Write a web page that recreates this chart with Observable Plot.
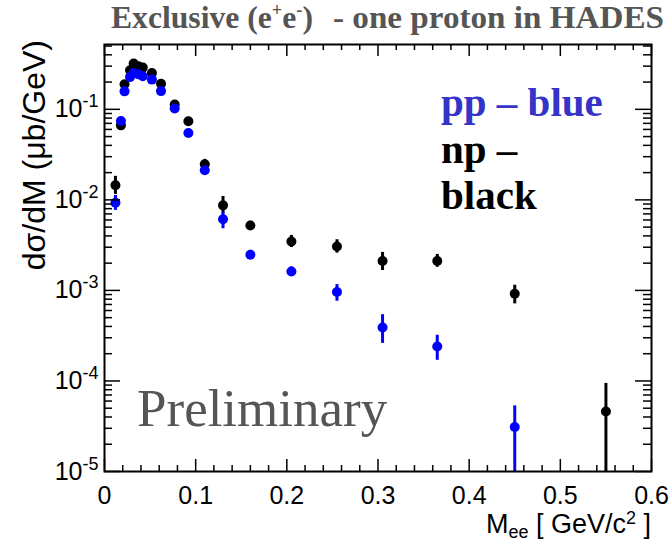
<!DOCTYPE html>
<html><head><meta charset="utf-8">
<script src="https://cdn.jsdelivr.net/npm/d3@7"></script>
<script src="https://cdn.jsdelivr.net/npm/@observablehq/plot@0.6"></script>
<style>
body{margin:0;background:#fff;}
#wrap{width:671px;height:544px;overflow:hidden;}
</style></head><body><div id="wrap"></div>
<script>
// ---- data ----
const mass = [0.012, 0.018, 0.022, 0.028, 0.032, 0.037, 0.042, 0.052, 0.062, 0.077, 0.092, 0.110, 0.130, 0.160, 0.205, 0.255, 0.305, 0.365, 0.450, 0.550];
// np (black)
const npVal = [0.0145, 0.0665, 0.189, 0.27, 0.32, 0.30, 0.289, 0.252, 0.192, 0.113, 0.0737, 0.0247, 0.0087, 0.0052, 0.00347, 0.00306, 0.00211, 0.00211, 0.00092, 0.000046];
const npLo  = [0.0115, 0.060, 0.175, 0.25, 0.30, 0.28, 0.27, 0.235, 0.18, 0.106, 0.068, 0.0217, 0.0071, 0.0047, 0.00298, 0.00258, 0.00166, 0.0018, 0.00071, 0.000001];
const npHi  = [0.0182, 0.073, 0.205, 0.29, 0.34, 0.32, 0.31, 0.27, 0.205, 0.12, 0.080, 0.028, 0.0109, 0.0058, 0.00405, 0.00363, 0.00263, 0.0025, 0.00114, 0.000094];
// pp (blue)
const ppVal = [0.0093, 0.0743, 0.158, 0.227, 0.252, 0.244, 0.232, 0.213, 0.159, 0.102, 0.0547, 0.0212, 0.0061, 0.00248, 0.00162, 0.00096, 0.00039, 0.00024, 0.000031, null];
const ppLo  = [0.00766, 0.069, 0.148, 0.214, 0.238, 0.23, 0.22, 0.20, 0.15, 0.097, 0.051, 0.0192, 0.0048, 0.00226, 0.00147, 0.00076, 0.00026, 0.000169, 0.000001, null];
const ppHi  = [0.0112, 0.080, 0.168, 0.24, 0.266, 0.258, 0.245, 0.226, 0.168, 0.108, 0.059, 0.0234, 0.00733, 0.00277, 0.00182, 0.00116, 0.00054, 0.00032, 0.000053, null];
// ticks
const xMajor = [0, 0.1, 0.2, 0.3, 0.4, 0.5, 0.6];
const yMajor = [1e-5, 1e-4, 1e-3, 1e-2, 1e-1];
const xDomain = [0, 0.6];
const yDomain = [1e-5, 0.52];

// ---- layout ----
const W = 671, H = 544;
const mL = 104, mR = 20, mT = 44, mB = 73;
const fw = W - mL - mR, fh = H - mT - mB;

const rows = (v, lo, hi) => mass.map((m, i) => ({m, v: v[i], lo: lo[i], hi: hi[i]})).filter(d => d.v != null);
const np = rows(npVal, npLo, npHi);
const pp = rows(ppVal, ppLo, ppHi);

const xMinor = d3.range(0, 61, 2).map(i => i / 100).filter(v => Math.round(v * 100) % 10 !== 0);
const yMinor = [];
yMajor.forEach(d => { for (let k = 2; k <= 9; k++) { const v = d * k; if (v <= yDomain[1]) yMinor.push(v); } });

const BLUE = "#0000ff";
const tk = {stroke: "#000", strokeWidth: 1.5};

const plot = Plot.plot({
  width: W, height: H,
  marginLeft: mL, marginRight: mR, marginTop: mT, marginBottom: mB,
  style: {fontFamily: "'Liberation Sans', Arial, sans-serif", fontSize: "24px", background: "#fff", color: "#000"},
  x: {domain: xDomain},
  y: {type: "log", domain: yDomain},
  marks: [
    Plot.ruleX(np, {x: "m", y1: "lo", y2: "hi", stroke: "#000", strokeWidth: 3, clip: true}),
    Plot.dot(np, {x: "m", y: "v", r: 5, fill: "#000", stroke: "none"}),
    Plot.ruleX(pp, {x: "m", y1: "lo", y2: "hi", stroke: BLUE, strokeWidth: 3, clip: true}),
    Plot.dot(pp, {x: "m", y: "v", r: 5, fill: BLUE, stroke: "none"}),
    // inward ticks: left / right
    Plot.tickY(yMajor, {y: d => d, insetRight: fw - 16, ...tk}),
    Plot.tickY(yMinor, {y: d => d, insetRight: fw - 8, ...tk}),
    Plot.tickY(yMajor, {y: d => d, insetLeft: fw - 16, ...tk}),
    Plot.tickY(yMinor, {y: d => d, insetLeft: fw - 8, ...tk}),
    // inward ticks: bottom / top
    Plot.tickX(xMajor, {x: d => d, insetTop: fh - 12, ...tk}),
    Plot.tickX(xMinor, {x: d => d, insetTop: fh - 6, ...tk}),
    Plot.tickX(xMajor, {x: d => d, insetBottom: fh - 12, ...tk}),
    Plot.tickX(xMinor, {x: d => d, insetBottom: fh - 6, ...tk}),
    Plot.frame({stroke: "#000", strokeWidth: 2}),
    Plot.axisX({ticks: xMajor, tickSize: 0, tickPadding: 15, fontSize: 25, label: null,
      tickFormat: d => d === 0 ? "0" : d3.format(".1f")(d)}),
    Plot.axisY({ticks: yMajor, tickSize: 0, tickPadding: 6, fontSize: 25, label: null,
      tickFormat: d => String(Math.round(Math.log10(d)))})
  ]
});
document.getElementById("wrap").appendChild(plot);

const svg = d3.select(plot);
// superscripted y tick labels: 10^n
svg.selectAll('g[aria-label="y-axis tick label"] text').each(function() {
  const e = this.textContent;
  const t = d3.select(this);
  t.text(null);
  t.append("tspan").text("10");
  t.append("tspan").attr("dy", -10).attr("font-size", 18).text(e);
});

const serif = "'Liberation Serif', 'Times New Roman', serif";
const addText = (x, y, anchor) => svg.append("text").attr("x", x).attr("y", y).attr("text-anchor", anchor);
// title
const title = addText(111, 28, "start")
  .attr("font-family", serif).attr("font-weight", "bold").attr("font-size", 31).attr("fill", "#555")
  .attr("textLength", 202).attr("lengthAdjust", "spacingAndGlyphs");
title.append("tspan").text("Exclusive (e");
title.append("tspan").attr("dy", -12).attr("font-size", 18).text("+");
title.append("tspan").attr("dy", 12).text("e");
title.append("tspan").attr("dy", -12).attr("font-size", 18).text("-");
title.append("tspan").attr("dy", 12).text(")");
addText(333, 28, "start")
  .attr("font-family", serif).attr("font-weight", "bold").attr("font-size", 31).attr("fill", "#555")
  .attr("textLength", 331).attr("lengthAdjust", "spacingAndGlyphs")
  .text("- one proton in HADES");

// legend text
const leg = [["pp \u2013 blue", "#3434c8", 116], ["np \u2013", "#000", 163], ["black", "#000", 209]];
leg.forEach(([s, c, y]) => addText(441, y, "start")
  .attr("font-family", serif).attr("font-weight", "bold").attr("font-size", 41).attr("fill", c).text(s));

// Preliminary
addText(137, 426, "start")
  .attr("font-family", serif).attr("font-size", 53).attr("fill", "#555").text("Preliminary");

// y axis title
svg.append("text").attr("transform", "translate(45,40) rotate(-90)").attr("text-anchor", "end")
  .attr("font-size", 32).attr("fill", "#000").text("d\u03c3/dM (\u03bcb/GeV)");

// x axis title
const xl = addText(651, 533, "end").attr("font-size", 27).attr("fill", "#000");
xl.append("tspan").text("M");
xl.append("tspan").attr("dy", 5).attr("font-size", 18).text("ee");
xl.append("tspan").attr("dy", -5).text(" [ GeV/c");
xl.append("tspan").attr("dy", -9).attr("font-size", 18).text("2");
xl.append("tspan").attr("dy", 9).text(" ]");
</script></body></html>
